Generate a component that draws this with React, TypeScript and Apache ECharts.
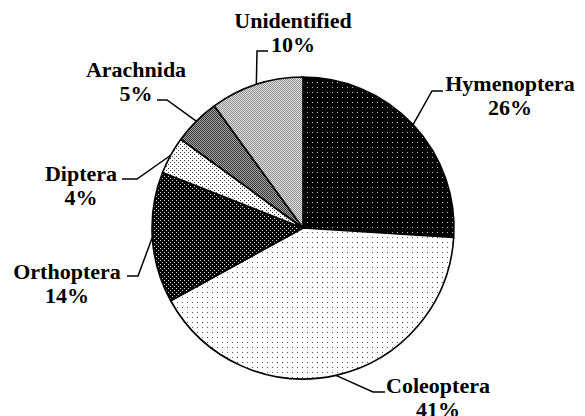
import React, { useEffect, useRef } from 'react';
import * as echarts from 'echarts';

const categories = ['Hymenoptera', 'Coleoptera', 'Orthoptera', 'Diptera', 'Arachnida', 'Unidentified'];
const percentages = [26, 41, 14, 4, 5, 10];

// label layout (page pixels): [centerX, centerY, elbowX, elbowY, endX, endY]
const labelPlacement = [
  [510, 95, 432, 91, 443, 91],
  [438, 397, 373, 392, 385, 392],
  [67, 283, 138, 276, 127, 276],
  [81, 185, 137, 179, 122, 179],
  [136, 81, 167, 100, 157, 100],
  [293, 32, 257, 51, 268, 51],
];

type Tile = { size: number; bg: string; fg: string; dots: number[][] };
const tiles: Tile[] = [
  { size: 5, bg: '#000000', fg: '#c8c8c8', dots: [[2, 2]] },
  { size: 5, bg: '#ffffff', fg: '#555555', dots: [[2, 2]] },
  { size: 4, bg: '#000000', fg: '#d8d8d8', dots: [[0, 0], [2, 2]] },
  { size: 4, bg: '#ffffff', fg: '#333333', dots: [[0, 0], [2, 2]] },
  { size: 2, bg: '#a8a8a8', fg: '#333333', dots: [[0, 0], [1, 1]] },
  { size: 2, bg: '#e2e2e2', fg: '#8e8e8e', dots: [[0, 0], [1, 1]] },
];

const FONT = 'Liberation Serif';

function makePattern(t: Tile) {
  const c = document.createElement('canvas');
  c.width = t.size;
  c.height = t.size;
  const ctx = c.getContext('2d')!;
  ctx.fillStyle = t.bg;
  ctx.fillRect(0, 0, t.size, t.size);
  ctx.fillStyle = t.fg;
  t.dots.forEach(([x, y]) => ctx.fillRect(x, y, 1, 1));
  return { image: c.toDataURL(), repeat: 'repeat', imageWidth: t.size, imageHeight: t.size };
}

export default function App() {
  const ref = useRef<HTMLDivElement>(null);
  useEffect(() => {
    if (!ref.current) return;
    const chart = echarts.init(ref.current, null, { renderer: 'svg' });
    const data = categories.map((name, i) => ({
      name,
      value: percentages[i],
      itemStyle: { color: makePattern(tiles[i]) as any },
    }));
    const txt = { fontFamily: FONT, fontWeight: 'bold', fontSize: 22, lineHeight: 24, color: '#000' };
    chart.setOption({
      animation: false,
      backgroundColor: '#ffffff',
      textStyle: { fontFamily: FONT },
      series: [
        {
          type: 'pie',
          center: [303, 228],
          radius: 151,
          startAngle: 90,
          clockwise: true,
          avoidLabelOverlap: false,
          data,
          itemStyle: { borderColor: '#000', borderWidth: 1.6 },
          label: {
            show: true,
            formatter: '{t|{b}}\n{t|{c}%}',
            ...txt,
            overflow: 'none',
            align: 'center',
            rich: { t: { ...txt, align: 'center' } },
          },
          labelLine: {
            show: true,
            length: 20,
            length2: 10,
            lineStyle: { color: '#000', width: 1.5 },
          },
          labelLayout: (params: any) => {
            const p = labelPlacement[params.dataIndex];
            const start = params.labelLinePoints ? params.labelLinePoints[0] : [p[2], p[3]];
            return {
              x: p[0],
              y: p[1],
              align: 'center',
              verticalAlign: 'middle',
              labelLinePoints: [start, [p[2], p[3]], [p[4], p[5]]],
            };
          },
          emphasis: { disabled: true },
        },
      ],
    });
    return () => chart.dispose();
  }, []);
  return (
    <div
      ref={ref}
      style={{ position: 'absolute', left: 0, top: 0, width: 585, height: 416 }}
    />
  );
}
